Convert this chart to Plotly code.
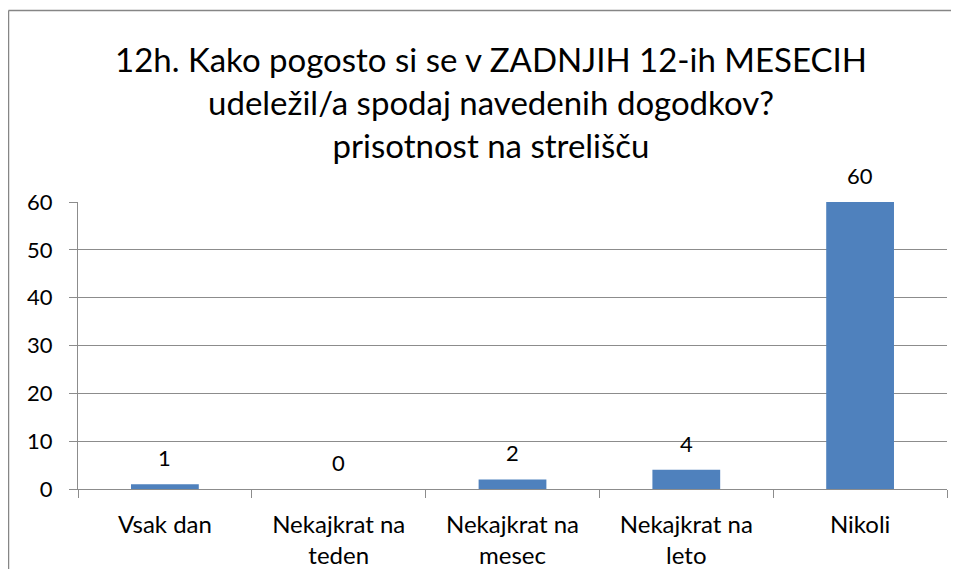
import plotly.graph_objects as go

categories = ["Vsak dan", "Nekajkrat na<br>teden", "Nekajkrat na<br>mesec", "Nekajkrat na<br>leto", "Nikoli"]
values = [1, 0, 2, 4, 60]
y_ticks = [0, 10, 20, 30, 40, 50, 60]
title_text = "12h. Kako pogosto si se v ZADNJIH 12-ih MESECIH<br>udeležil/a spodaj navedenih dogodkov?<br>prisotnost na strelišču"

# page body has an 8px margin: work in figure coordinates (window - 8)
OFF = 8
W, H = 963 - 2 * OFF - 4, 581 - 2 * OFF - 4
L, R, T, B = 78 - OFF, 947 - OFF, 202 - OFF, 489 - OFF
pw, ph = R - L, B - T

def px_x(x):
    return (x - L) / pw

def px_y(y):
    return (B - y) / ph

font_family = "Lato, Open Sans, sans-serif"
grid_col = "#8c8c8c"

fig = go.Figure(go.Bar(
    x=categories, y=values,
    marker=dict(color="#4F81BD", line=dict(width=0)),
    width=0.39, hoverinfo="x+y",
))

for c, v in zip(categories, values):
    fig.add_annotation(x=c, y=v, text=str(v), showarrow=False, yanchor="bottom", yshift=11,
                       font=dict(size=22, family=font_family, color="#000000"))

fig.update_layout(
    width=W, height=H,
    margin=dict(l=L, r=W - R, t=T, b=H - B, autoexpand=False),
    paper_bgcolor="white", plot_bgcolor="white",
    showlegend=False,
    font=dict(family=font_family, color="#000000"),
    title=dict(text=title_text, x=(491 - OFF) / W, xanchor="center", y=1 - (72 - OFF) / H, yanchor="top",
               font=dict(size=33, family=font_family, color="#000000")),
    xaxis=dict(showline=True, linecolor=grid_col, linewidth=1, ticks="outside", tickson="boundaries",
               ticklen=8, tickcolor=grid_col, tickfont=dict(size=24, family=font_family),
               showgrid=False, ticklabelstandoff=14),
    yaxis=dict(range=[0, 60], tickvals=y_ticks, showgrid=True, gridcolor=grid_col, gridwidth=1,
               showline=True, linecolor=grid_col, linewidth=1, ticks="outside", ticklen=8,
               tickcolor=grid_col, tickfont=dict(size=22, family=font_family), zeroline=False,
               ticklabelstandoff=12),
    bargap=0.61,
)

# chart frame (top and left edges visible)
fig.add_shape(type="line", xref="paper", yref="paper", x0=px_x(0.5), x1=px_x(W + 5), y0=px_y(2.5), y1=px_y(2.5),
              line=dict(color="#868686", width=1.5))
fig.add_shape(type="line", xref="paper", yref="paper", x0=px_x(0.5), x1=px_x(0.5), y0=px_y(2.5), y1=px_y(H + 5),
              line=dict(color="#868686", width=1.5))

fig.write_html("out.html", config={"displayModeBar": False})
